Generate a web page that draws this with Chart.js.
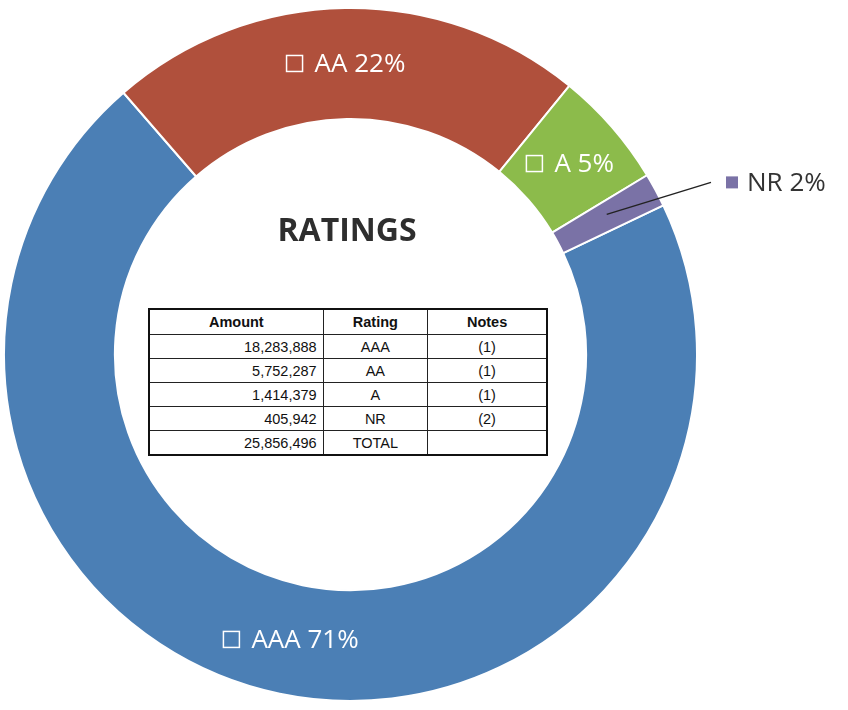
<!DOCTYPE html>
<html>
<head>
<meta charset="utf-8">
<script src="https://cdn.jsdelivr.net/npm/chart.js@4.4.1/dist/chart.umd.min.js"></script>
<style>
  html, body { margin: 0; padding: 0; background: #fff; }
  #wrap { position: relative; width: 848px; height: 710px; }
  #ratingsTable {
    position: absolute; left: 148px; top: 308px; width: 400px;
    border-collapse: collapse; border: 2px solid #111;
    font-family: "Liberation Sans", Arial, sans-serif; font-size: 14.5px; color: #111;
    background: #fff;
  }
  #ratingsTable th, #ratingsTable td {
    border: 1px solid #222; height: 23px; padding: 0 6px; line-height: 22px;
  }
  #ratingsTable th { font-weight: bold; text-align: center; height: 24px; }
  #ratingsTable td.amt { text-align: right; }
  #ratingsTable td.c { text-align: center; }
</style>
</head>
<body>
<div id="wrap">
  <canvas id="ratingsChart" width="848" height="710"></canvas>
  <table id="ratingsTable">
    <colgroup><col style="width:175px"><col style="width:105px"><col style="width:120px"></colgroup>
    <thead><tr><th>Amount</th><th>Rating</th><th>Notes</th></tr></thead>
    <tbody id="tableBody"></tbody>
  </table>
</div>
<script>
// DATA
const ratings = ['AAA', 'AA', 'A', 'NR'];
const amounts = [18283888, 5752287, 1414379, 405942];
const notes = ['(1)', '(1)', '(1)', '(2)'];
const totalLabel = 'TOTAL';
const sliceColors = ['#4b7fb5', '#b0503c', '#8cbb4b', '#7a72a6'];

const total = amounts.reduce((a, b) => a + b, 0);
const fmt = n => n.toLocaleString('en-US');

// TABLE
const tbody = document.getElementById('tableBody');
ratings.forEach((r, i) => {
  const tr = document.createElement('tr');
  tr.innerHTML = `<td class="amt">${fmt(amounts[i])}</td><td class="c">${r}</td><td class="c">${notes[i]}</td>`;
  tbody.appendChild(tr);
});
const totalRow = document.createElement('tr');
totalRow.innerHTML = `<td class="amt">${fmt(total)}</td><td class="c">${totalLabel}</td><td></td>`;
tbody.appendChild(totalRow);

// SLICE LABELS
const sliceLabels = {
  id: 'sliceLabels',
  afterDatasetsDraw(chart) {
    const ctx = chart.ctx;
    const arcs = chart.getDatasetMeta(0).data;
    ctx.save();
    ctx.font = '26px "Open Sans", "Noto Sans", sans-serif';
    ctx.textBaseline = 'middle';
    arcs.forEach((arc, i) => {
      const pct = Math.round(amounts[i] / total * 100) + '%';
      const text = ratings[i] + ' ' + pct;
      const pos = arc.tooltipPosition();
      const tw = ctx.measureText(text).width;
      const box = 16;
      if (i === 3) {
        // outside label with leader line
        const ex = arc.x + arc.outerRadius + 14;
        const ey = pos.y - 34;
        ctx.strokeStyle = '#222';
        ctx.lineWidth = 1.5;
        ctx.beginPath();
        ctx.moveTo(pos.x, pos.y - 2);
        ctx.lineTo(ex, ey);
        ctx.stroke();
        ctx.fillStyle = sliceColors[i];
        ctx.fillRect(ex + 15, ey - 6, 12, 12);
        ctx.fillStyle = '#333';
        ctx.textAlign = 'left';
        ctx.fillText(text, ex + 36, ey + 1);
        return;
      }
      const full = box + 12 + tw;
      const x0 = pos.x - full / 2;
      ctx.strokeStyle = '#fff';
      ctx.lineWidth = 1.5;
      ctx.strokeRect(x0, pos.y - box / 2, box, box);
      ctx.fillStyle = '#fff';
      ctx.textAlign = 'left';
      ctx.fillText(text, x0 + box + 12, pos.y + 1);
    });
    // title in the hole
    ctx.font = 'bold 32px "Open Sans", "Noto Sans", sans-serif';
    ctx.fillStyle = '#2e2e2e';
    ctx.textAlign = 'center';
    ctx.fillText('RATINGS', 347, 232);
    ctx.restore();
  }
};

// DOUGHNUT
const ctx = document.getElementById('ratingsChart').getContext('2d');
new Chart(ctx, {
  type: 'doughnut',
  data: {
    labels: ratings,
    datasets: [{
      data: amounts,
      backgroundColor: sliceColors,
      borderColor: '#fff',
      borderWidth: 2
    }]
  },
  options: {
    responsive: false,
    animation: false,
    cutout: '68%',
    rotation: 64.5,
    layout: { padding: { left: 3, right: 150, top: 7, bottom: 8 } },
    plugins: {
      legend: { display: false },
      tooltip: { enabled: false }
    }
  },
  plugins: [sliceLabels]
});
</script>
</body>
</html>
